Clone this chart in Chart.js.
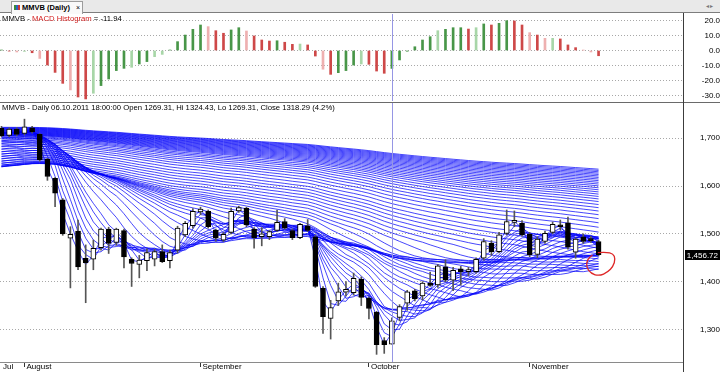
<!DOCTYPE html>
<html>
<head>
<meta charset="utf-8">
<title>MMVB (Daily)</title>
<script src="https://cdn.jsdelivr.net/npm/chart.js@4.4.1/dist/chart.umd.min.js"></script>
<style>
  html, body { margin: 0; padding: 0; }
  body { width: 720px; height: 372px; overflow: hidden; position: relative; background: #fff;
         font-family: 'Liberation Sans', Arial, sans-serif; color: #000; }
  #tabbar { position: absolute; left: 0; top: 0; width: 720px; height: 12px; background: #e9e9e9; border-bottom: 1px solid #7d7d7d; }
  #tab { position: absolute; left: 11px; top: 1px; width: 70px; height: 12px; background: #f9f9f9;
         border: 1px solid #9c9c9c; border-bottom: none; font-size: 7.5px; font-weight: bold; line-height: 11px; white-space: nowrap; }
  #tab .ico { position: absolute; left: 2px; top: 3px; width: 6px; height: 5px;
              background: linear-gradient(90deg, #3a8a3a 0 33%, #2d5fc4 33% 66%, #c33 66%); }
  #tab .name { position: absolute; left: 10px; top: 0; }
  #tab .x { position: absolute; left: 64px; top: 0; font-weight: normal; font-size: 7px; }
  #arrows { position: absolute; left: 706px; top: 1px; font-size: 6px; color: #777; line-height: 11px; letter-spacing: 1px; }
  canvas { position: absolute; left: 0; }
  #macd { top: 13px; }
  #main { top: 103px; }
  .sep { position: absolute; left: 0; top: 102px; width: 720px; height: 1px; background: #6a6a6a; }
  .vax { position: absolute; left: 683px; top: 13px; width: 1px; height: 359px; background: #3c3c3c; }
  .title { position: absolute; left: 2px; font-size: 7.7px; line-height: 9px; white-space: nowrap; }
  .title .red { color: #d42020; }
</style>
</head>
<body>
<div id="tabbar">
  <div id="tab"><span class="ico"></span><span class="name">MMVB (Daily)</span><span class="x">×</span></div>
  <div id="arrows">◂▸</div>
</div>
<canvas id="macd" width="720" height="89"></canvas>
<canvas id="main" width="720" height="269"></canvas>
<div class="sep"></div>
<div class="vax"></div>
<div class="title" style="top:13.5px">MMVB - <span class="red">MACD Histogram</span> = -11.94</div>
<div class="title" style="top:103.3px">MMVB - Daily 06.10.2011 18:00:00 Open 1269.31, Hi 1324.43, Lo 1269.31, Close 1318.29 (4.2%)</div>
<script>
// daily bars, 27.07.2011 .. mid November 2011
const opens = [1721, 1706, 1719, 1710, 1722, 1708, 1656, 1616, 1571, 1491,
  1506, 1449, 1447, 1471, 1510, 1482, 1507, 1447, 1436, 1444,
  1447, 1463, 1444, 1466, 1498, 1517, 1546, 1547, 1508, 1487,
  1503, 1548, 1554, 1510, 1494, 1494, 1507, 1526, 1507, 1492,
  1517, 1494, 1386, 1323, 1360, 1378, 1377, 1405, 1365, 1336,
  1277, 1269.31, 1325, 1355, 1381, 1370, 1397, 1393, 1431, 1403,
  1427, 1421, 1421, 1449, 1480, 1463, 1501, 1524, 1522, 1499,
  1457, 1484, 1503, 1518, 1523, 1462, 1494, 1490, 1484]
const highs = [1725, 1722, 1722, 1740, 1725, 1710, 1658, 1618, 1574, 1515,
  1529, 1477, 1487, 1512, 1514, 1512, 1510, 1450, 1455, 1469,
  1468, 1477, 1466, 1516, 1526, 1553, 1556, 1550, 1510, 1503,
  1554, 1558, 1556, 1513, 1513, 1507, 1550, 1532, 1510, 1522,
  1530, 1497, 1390, 1361, 1397, 1400, 1418, 1410, 1368, 1338,
  1283, 1324.43, 1352, 1382, 1384, 1400, 1420, 1436, 1446, 1430,
  1432, 1430, 1450, 1490, 1486, 1503, 1550, 1548, 1528, 1503,
  1494, 1506, 1525, 1529, 1535, 1492, 1500, 1495, 1487]
const lows = [1703, 1703, 1705, 1707, 1711, 1652, 1612, 1557, 1497, 1387,
  1425, 1356, 1425, 1466, 1459, 1476, 1429, 1390, 1408, 1423,
  1433, 1440, 1429, 1460, 1494, 1512, 1540, 1512, 1485, 1484,
  1500, 1545, 1515, 1470, 1475, 1488, 1505, 1510, 1488, 1490,
  1505, 1388, 1292, 1280, 1350, 1370, 1372, 1350, 1322, 1248,
  1250, 1269.31, 1318, 1340, 1360, 1362, 1390, 1388, 1400, 1381,
  1393, 1412, 1418, 1445, 1455, 1460, 1498, 1515, 1495, 1452,
  1450, 1480, 1500, 1508, 1468, 1449, 1480, 1482, 1454]
const closes = [1705, 1719, 1708, 1724, 1714, 1655, 1620, 1585, 1500, 1499,
  1431, 1440, 1470, 1510, 1480, 1510, 1452, 1438, 1445, 1461,
  1463, 1442, 1461, 1512, 1522, 1547, 1552, 1515, 1491, 1499,
  1547, 1555, 1519, 1492, 1500, 1505, 1524, 1512, 1492, 1520,
  1507, 1390, 1327, 1346, 1379, 1384, 1407, 1367, 1344, 1268,
  1268, 1318.29, 1348, 1379, 1364, 1397, 1392, 1433, 1403, 1424,
  1421, 1423, 1447, 1484, 1463, 1498, 1526, 1526, 1498, 1456,
  1489, 1501, 1520, 1515, 1472, 1489, 1484, 1486, 1456.72]

const macdHist = [0.3, -0.4, -1.0, -0.6, -1.5, -5.3, -9.7, -14.6, -21.9, -26.3,
  -31.0, -32.3, -28.5, -23.4, -19.0, -13.4, -11.9, -11.2, -9.0, -7.4,
  -4.1, -2.6, 0.3, 5.9, 10.3, 14.1, 17.0, 15.9, 13.2, 11.5,
  13.7, 15.2, 13.0, 9.7, 7.0, 6.3, 6.5, 5.5, 4.1, 4.3,
  3.7, -3.7, -12.5, -15.9, -14.8, -13.4, -9.7, -9.0, -9.2, -13.7,
  -15.2, -11.94, -6.3, -0.5, 2.5, 7.0, 9.2, 13.2, 14.1, 15.2,
  15.2, 14.3, 15.2, 17.7, 17.0, 18.1, 19.9, 19.7, 17.0, 11.9,
  10.3, 8.1, 8.1, 7.7, 3.7, 1.9, 0.2, -1.0, -3.5]
// bars drawn in the pale shade
const macdPale = [2, 3, 5, 9, 12, 17, 20, 21, 27, 32, 39, 42, 47, 57, 62, 69, 71, 72, 76, 77]

// simple moving average ribbon: periods, and the level of the closes
// before the visible window for each of them (read at the left edge)
const maPeriods = [2, 3, 4, 5, 6, 7, 8, 9, 10,
  12, 14, 16, 18, 20, 22, 24, 26, 28, 30,
  33, 36, 39, 42, 45, 48,
  52, 56, 60, 64, 68, 72, 76, 80,
  85, 90, 95, 100, 105, 110, 115, 120, 125, 130, 135, 140, 145, 150,
  155, 160, 165, 170, 175, 180, 185, 190, 195, 200, 205, 210, 215, 220]
const maSeeds = [1712, 1712, 1712, 1712, 1712, 1712, 1712, 1712, 1712,
  1705, 1700, 1694, 1688, 1682, 1676, 1670, 1665, 1660, 1655,
  1650, 1646, 1642, 1640, 1639, 1639,
  1640, 1643, 1647, 1652, 1657, 1662, 1667, 1672,
  1677, 1682, 1686, 1690, 1693, 1696, 1699, 1701, 1703, 1705, 1706, 1707, 1708, 1709,
  1710, 1711, 1712, 1713, 1714, 1715, 1716, 1717, 1718, 1719, 1720, 1721, 1722, 1723]

const monthTicks = [-0.06, 3, 26, 48, 69]
const monthLabels = ['Jul', 'August', 'September', 'October', 'November']
const priceTicks = [1300, 1400, 1500, 1600, 1700]
const macdTicks = [-30, -20, -10, 0, 10, 20]
const crossBar = 51
const lastClose = 1456.72
// hand drawn loop near the last bar (bar index, price)
const noteLoop = [[77.9, 1461], [79.0, 1462], [79.9, 1459], [80.2, 1447], [79.9, 1432], [79.2, 1420],
  [78.1, 1412], [77.0, 1417], [76.4, 1430], [76.5, 1446], [77.2, 1456]]

Chart.defaults.font.family = "'Liberation Sans', Arial, sans-serif"
Chart.defaults.font.size = 8
Chart.defaults.color = '#000'

const xRange = { min: -0.196, max: 89.03, offset: false }
// right axis strip is 37px wide; no extra label padding into the plot
const fixY = s => { s.width = 37; s.paddingTop = 0; s.paddingBottom = 0 }
const fixX = s => { s.height = 10; s.paddingLeft = 0; s.paddingRight = 0 }

const overlays = {
  id: 'overlays',
  afterDatasetsDraw(chart, args, opts) {
    const { ctx, chartArea: a, scales: { x, y } } = chart
    ctx.save()
    const cx = Math.round(x.getPixelForValue(crossBar)) + 0.5
    ctx.strokeStyle = 'rgb(150,150,228)'
    ctx.lineWidth = 1
    ctx.beginPath()
    ctx.moveTo(cx, a.top)
    ctx.lineTo(cx, a.bottom)
    ctx.stroke()
    if (opts.note) {
      const pts = noteLoop.map(p => [x.getPixelForValue(p[0]), y.getPixelForValue(p[1])])
      ctx.strokeStyle = 'rgb(222,38,38)'
      ctx.lineWidth = 1.3
      ctx.beginPath()
      ctx.moveTo(pts[0][0], pts[0][1])
      for (let i = 1; i < pts.length - 1; i++) {
        const mx = (pts[i][0] + pts[i + 1][0]) / 2
        const my = (pts[i][1] + pts[i + 1][1]) / 2
        ctx.quadraticCurveTo(pts[i][0], pts[i][1], mx, my)
      }
      const last = pts[pts.length - 1]
      ctx.lineTo(last[0], last[1])
      ctx.stroke()
    }
    ctx.restore()
  },
  afterDraw(chart, args, opts) {
    if (opts.last == null) return
    const { ctx, chartArea: a, scales: { y } } = chart
    const py = Math.round(y.getPixelForValue(opts.last))
    ctx.save()
    ctx.fillStyle = '#000'
    ctx.fillRect(a.right + 2, py - 5, chart.width - a.right - 2, 10)
    ctx.fillStyle = '#fff'
    ctx.font = "8px 'Liberation Sans', Arial, sans-serif"
    ctx.textAlign = 'right'
    ctx.textBaseline = 'middle'
    ctx.fillText(opts.last.toLocaleString('en-US', { minimumFractionDigits: 2 }), chart.width - 2, py + 0.5)
    ctx.restore()
  }
}

// MACD histogram panel
const macdColors = macdHist.map((v, i) => {
  const up = i === 0 || v >= macdHist[i - 1]
  const pale = macdPale.includes(i)
  if (up) return pale ? 'rgb(168,214,168)' : 'rgb(72,150,72)'
  return pale ? 'rgb(238,176,176)' : 'rgb(206,72,72)'
})

new Chart(document.getElementById('macd'), {
  type: 'bar',
  data: {
    datasets: [{
      label: 'MACD Histogram',
      data: macdHist.map((v, i) => ({ x: i, y: v })),
      backgroundColor: macdColors,
      barThickness: 2,
      grouped: false
    }]
  },
  options: {
    responsive: false,
    animation: false,
    devicePixelRatio: 1,
    layout: { padding: { top: 1, bottom: 1, left: 0, right: 0 } },
    plugins: { legend: { display: false }, tooltip: { enabled: false }, overlays: {} },
    scales: {
      x: { type: 'linear', ...xRange, display: false },
      y: {
        position: 'right', min: -33.67, max: 24.33,
        afterFit: fixY,
        afterBuildTicks: s => { s.ticks = macdTicks.map(v => ({ value: v })) },
        ticks: { crossAlign: 'far', padding: 0, callback: v => v.toFixed(1) },
        grid: { color: '#a8a8a8', drawTicks: true, tickLength: 16.5, tickColor: 'rgba(0,0,0,0)' },
        border: { display: false, dash: [1, 2] }
      }
    }
  },
  plugins: [overlays]
})

// price panel: candles + moving average ribbon
const maLines = maPeriods.map((p, k) => {
  let sum = maSeeds[k] * p
  return closes.map((c, i) => {
    sum += c - (i >= p ? closes[i - p] : maSeeds[k])
    return { x: i, y: sum / p }
  })
})

const maSets = maLines.map((pts, k) => ({
  type: 'line',
  label: 'MA ' + maPeriods[k],
  data: pts,
  borderColor: 'rgba(0,0,250,0.72)',
  borderWidth: 1,
  pointRadius: 0,
  tension: 0,
  order: 3
}))

new Chart(document.getElementById('main'), {
  type: 'bar',
  data: {
    datasets: [
      ...maSets,
      {
        label: 'High-Low',
        data: closes.map((c, i) => ({ x: i, y: [lows[i], highs[i]] })),
        backgroundColor: '#555',
        barThickness: 1,
        grouped: false,
        order: 2
      },
      {
        label: 'Open-Close',
        data: closes.map((c, i) => ({ x: i, y: [opens[i], c] })),
        backgroundColor: closes.map((c, i) => c >= opens[i] ? '#fff' : '#000'),
        borderColor: '#000',
        borderWidth: 1,
        borderSkipped: false,
        barThickness: 5,
        minBarLength: 2,
        grouped: false,
        order: 1
      }
    ]
  },
  options: {
    responsive: false,
    animation: false,
    devicePixelRatio: 1,
    layout: { padding: 0 },
    plugins: { legend: { display: false }, tooltip: { enabled: false }, overlays: { note: true, last: lastClose } },
    scales: {
      x: {
        type: 'linear', ...xRange, position: 'bottom',
        afterFit: fixX,
        afterBuildTicks: s => { s.ticks = monthTicks.map(v => ({ value: v })) },
        ticks: {
          autoSkip: false, maxRotation: 0, align: 'start', labelOffset: 2, padding: -5,
          callback: (v, i) => monthLabels[i]
        },
        grid: {
          offset: false, drawOnChartArea: false, drawTicks: true, tickLength: 5,
          tickColor: c => c.index === 0 ? 'rgba(0,0,0,0)' : '#333'
        },
        border: { display: true, color: '#8a8a8a' }
      },
      y: {
        position: 'right', min: 1232, max: 1773.8,
        afterFit: fixY,
        afterBuildTicks: s => { s.ticks = priceTicks.map(v => ({ value: v })) },
        ticks: { crossAlign: 'far', padding: 0, callback: v => v.toLocaleString('en-US') },
        grid: { color: '#a8a8a8', drawTicks: true, tickLength: 15, tickColor: 'rgba(0,0,0,0)' },
        border: { display: false, dash: [1, 2] }
      }
    }
  },
  plugins: [overlays]
})
</script>
</body>
</html>
